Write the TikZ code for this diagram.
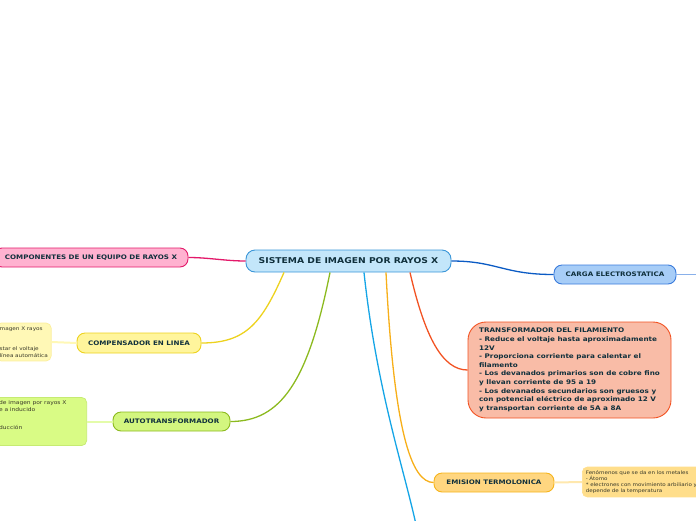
\documentclass[tikz,border=0pt]{standalone}
\usepackage{fontspec}
\setmainfont[FakeStretch=1.15]{DejaVu Sans}
\usepackage{xcolor}
\usetikzlibrary{calc}
\definecolor{mtext}{HTML}{10303C}
\definecolor{leaftext}{HTML}{3A3A2A}
\definecolor{sysfill}{HTML}{C3E6FA}
\definecolor{sysline}{HTML}{3A96D8}
\definecolor{pinkfill}{HTML}{FFB2D0}
\definecolor{pinkline}{HTML}{E3196A}
\definecolor{yelfill}{HTML}{FFF59C}
\definecolor{yelline}{HTML}{EDD21E}
\definecolor{yelleaf}{HTML}{FFF8B6}
\definecolor{yelleafline}{HTML}{FBEE9C}
\definecolor{grnfill}{HTML}{D3F67F}
\definecolor{grnline}{HTML}{8CBA1F}
\definecolor{grnleaf}{HTML}{D9FB85}
\definecolor{grnleafline}{HTML}{C6EB72}
\definecolor{bluefill}{HTML}{A7CDF7}
\definecolor{blueline}{HTML}{3A7BDC}
\definecolor{bluelink}{HTML}{0B5BC4}
\definecolor{redfill}{HTML}{F9BCA7}
\definecolor{redline}{HTML}{F25323}
\definecolor{orgfill}{HTML}{FFD680}
\definecolor{orgline}{HTML}{F6B41C}
\definecolor{orgleaf}{HTML}{FFDE8B}
\definecolor{cyanlink}{HTML}{15A5E6}
\tikzset{
  mbox/.style={draw, line width=0.9pt, rounded corners=8pt, align=center, inner sep=2pt, text=mtext, font=\fontsize{6.2}{8}\selectfont\bfseries},
  msys/.style={mbox, draw=sysline, fill=sysfill, rounded corners=9pt, minimum width=205pt, minimum height=22pt, font=\fontsize{8}{10}\selectfont\bfseries},
  mpink/.style={mbox, draw=pinkline, fill=pinkfill, minimum height=19pt},
  myel/.style={mbox, draw=yelline, fill=yelfill, minimum height=20pt},
  mgrn/.style={mbox, draw=grnline, fill=grnfill, minimum height=19pt},
  mblue/.style={mbox, draw=blueline, fill=bluefill, minimum height=19pt},
  morg/.style={mbox, draw=orgline, fill=orgfill, minimum height=19pt},
  mred/.style={mbox, draw=redline, fill=redfill, rounded corners=18pt, align=left, font=\fontsize{6.3}{8.6}\selectfont\bfseries},
  mleaf/.style={draw, line width=0.7pt, rounded corners=5pt, align=left, inner sep=3.5pt, text=leaftext, font=\fontsize{5.1}{6.3}\selectfont},
  mlink/.style={line width=1.3pt},
  mleaflink/.style={line width=2pt},
}
\begin{document}
\begin{tikzpicture}[x=1pt, y=-1pt]
  \useasboundingbox (0,0) rectangle (696,520);
  % main topic
  \node[msys] (sys) at (348.5,261) {SISTEMA DE IMAGEN POR RAYOS X};
  % subtopics
  \node[mpink, minimum width=194pt] (comp) at (91,257.5) {COMPONENTES DE UN EQUIPO DE RAYOS X};
  \node[myel, minimum width=124pt] (compens) at (139,343) {COMPENSADOR EN LINEA};
  \node[mgrn, minimum width=117pt] (auto) at (171.5,421.5) {AUTOTRANSFORMADOR};
  \node[mblue, minimum width=122pt] (carga) at (615,274.5) {CARGA ELECTROSTATICA};
  \node[mred, minimum width=203pt, minimum height=96pt] (filam) at (569.5,370) {TRANSFORMADOR DEL FILAMIENTO\\
    - Reduce el voltaje hasta aproximadamente\\
    12V\\
    - Proporciona corriente para calentar el\\
    filamento\\
    - Los devanados primarios son de cobre fino\\
    y llevan corriente de 95 a 19\\
    - Los devanados secundarios son gruesos y\\
    con potencial eléctrico de aproximado 12 V\\
    y transportan corriente de 5A a 8A};
  \node[morg, minimum width=120pt] (emision) at (494,482.5) {EMISION TERMOLONICA};
  % notes
  \node[mleaf, draw=yelleafline, fill=yelleaf, anchor=east, text width=48pt, font=\fontsize{5}{6.8}\selectfont] (compensnote) at (51.5,342) {\mbox{magen X rayos}\\\mbox{}\\\mbox{}\\\mbox{star el voltaje}\\\mbox{línea automática}};
  \node[mleaf, draw=grnleafline, fill=grnleaf, anchor=east, text width=84pt, font=\fontsize{5.2}{6.2}\selectfont] (autonote) at (87,421.5) {de imagen por rayos X\\e a inducido\\\mbox{}\\\mbox{}\\ducción\\\mbox{}\\\mbox{}};
  \node[mleaf, draw=orgleaf, fill=orgleaf, anchor=west, text width=140pt, font=\fontsize{4.85}{6}\selectfont] (emisionnote) at (582,482) {Fenómenos que se da en los metales\\- Átomo\\{*} electrones con movimiento arbiliario y\\depende de la temperatura};
  \coordinate (cargaout) at (700,274.5);
  \coordinate (cyanend) at (420,545);
  % connectors
  \draw[mlink, pinkline] (comp.east) .. controls +(20,0) and +(-20,0) .. (sys.west);
  \draw[mlink, yelline] ([xshift=-64.5pt]sys.south) .. controls +(-22,50) and +(45,0) .. (compens.east);
  \draw[mlink, grnline] ([xshift=-18.5pt]sys.south) .. controls +(-22,110) and +(50,0) .. (auto.east);
  \draw[mlink, cyanlink] ([xshift=15.5pt]sys.south) .. controls +(14,130) and +(-10,-60) .. (cyanend);
  \draw[mlink, orgline!90!orange] ([xshift=37.5pt]sys.south) .. controls +(8,160) and +(-22,0) .. (emision.west);
  \draw[mlink, redline] ([xshift=61.5pt]sys.south) .. controls +(15,65) and +(-25,0) .. (filam.west);
  \draw[mlink, bluelink] (sys.east) .. controls +(45,0) and +(-50,0) .. (carga.west);
  \draw[line width=1pt, blueline!60] (carga.east) -- (cargaout);
  \draw[mleaflink, yelleaf] (compensnote.east) -- (compens.west);
  \draw[mleaflink, grnleaf!70] (autonote.east) -- (auto.west);
  \draw[mleaflink, orgleaf!70] (emision.east) -- (emisionnote.west);
\end{tikzpicture}
\end{document}
